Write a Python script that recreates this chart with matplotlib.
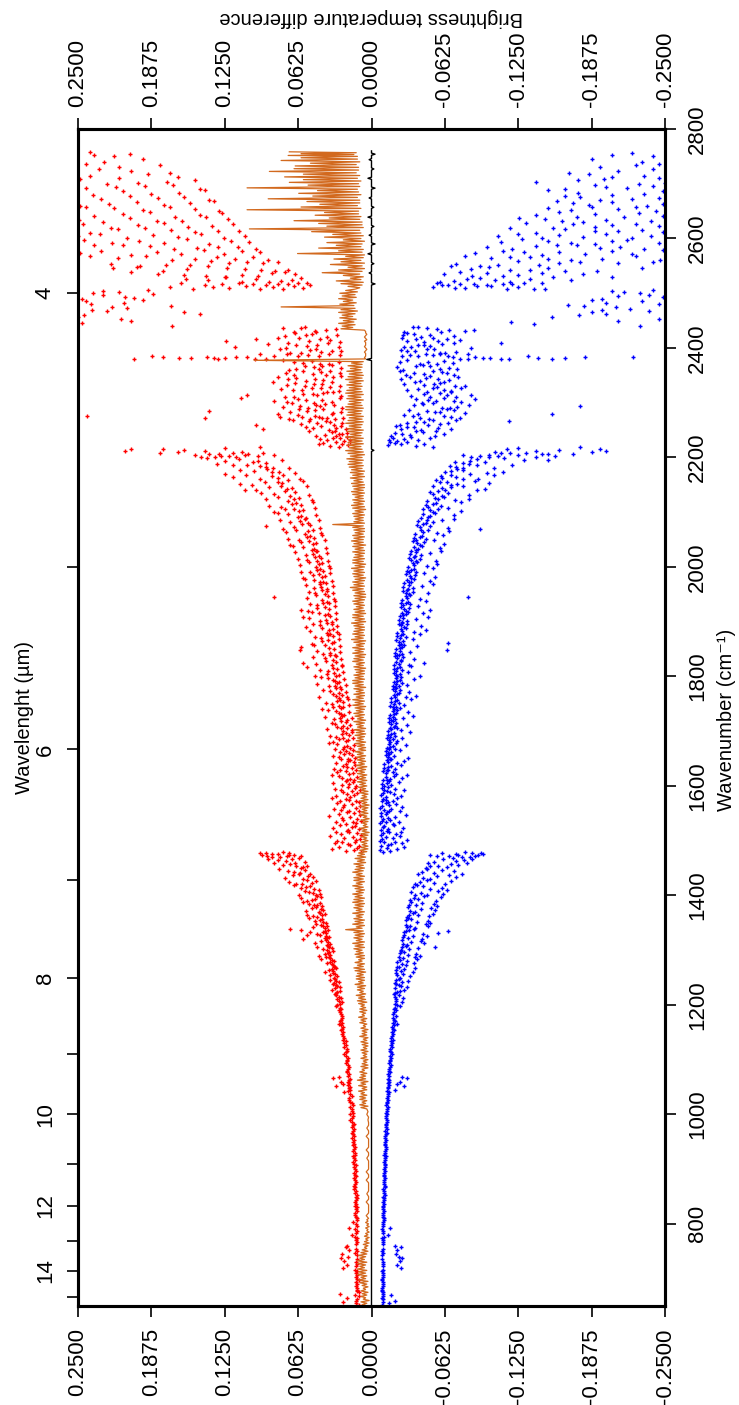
import numpy as np
from math import gcd
import matplotlib
matplotlib.use("Agg")
import matplotlib.pyplot as plt

plt.rcParams['font.family'] = ['Liberation Sans', 'DejaVu Sans']

# brightness temperature differences per 10 cm-1 bin: (bin start, channel readings)
red_rows = [
    (650, [.012, .011, .013, .024]), (660, [.012, .013, .011, .021]), (670, [.011, .012, .014, .027]),
    (680, [.012, .013, .012]), (690, [.013, .011, .012]), (700, [.012, .013, .012]),
    (710, [.013, .012, .014]), (720, [.012, .021, .013, .024]), (730, [.013, .023, .012, .026]),
    (740, [.012, .020, .014, .025]), (750, [.013, .022, .012, .019]), (760, [.012, .013, .021]),
    (770, [.013, .012, .014]), (780, [.013, .017, .012]), (790, [.012, .014, .019]),
    (800, [.013, .012, .016]), (810, [.013, .014, .012]), (820, [.013, .012, .014]),
    (830, [.012, .014, .013]), (840, [.013, .014, .012]), (850, [.014, .013, .012]),
    (860, [.013, .014, .015]), (870, [.014, .013, .015]), (880, [.013, .015, .014]),
    (890, [.014, .015, .013]), (900, [.015, .014, .013]), (910, [.014, .015, .016]),
    (920, [.015, .014, .016]), (930, [.016, .015, .014]), (940, [.015, .016, .014]),
    (950, [.016, .015, .017]), (960, [.016, .015, .017]), (970, [.017, .016, .015]),
    (980, [.016, .017, .015]), (990, [.017, .016, .018]), (1000, [.017, .016, .018]),
    (1010, [.017, .018, .016]), (1020, [.018, .017, .019]), (1030, [.018, .019, .017]),
    (1040, [.019, .018, .020, .023]), (1050, [.019, .026, .018, .030, .020, .024]),
    (1060, [.019, .033, .020, .018, .028]), (1070, [.020, .019, .021]), (1080, [.020, .021, .019]),
    (1090, [.021, .020, .022]), (1100, [.021, .022, .020]), (1110, [.022, .021, .023]),
    (1120, [.022, .023, .021]), (1130, [.023, .022, .024]), (1140, [.024, .023, .025]),
    (1150, [.025, .024, .026]), (1160, [.025, .028, .026, .024]), (1170, [.026, .025, .027]),
    (1180, [.027, .026, .025]), (1190, [.027, .030, .028, .026]), (1200, [.028, .025, .027, .029]),
    (1210, [.029, .026, .028, .030]), (1220, [.029, .034, .030, .027, .031]),
    (1230, [.030, .027, .033, .029, .031]), (1240, [.031, .035, .030, .028, .032]),
    (1250, [.032, .029, .035, .031, .033]), (1260, [.033, .040, .032, .030, .034, .036]),
    (1270, [.034, .031, .038, .033, .035]), (1280, [.035, .043, .034, .032, .039, .036]),
    (1290, [.036, .033, .045, .035, .040, .037]), (1300, [.037, .046, .036, .034, .041, .038]),
    (1310, [.038, .035, .048, .037, .043, .039]), (1320, [.039, .055, .038, .036, .044, .058, .040]),
    (1330, [.040, .060, .037, .069, .046, .039, .052, .041]), (1340, [.041, .038, .050, .040, .047, .043]),
    (1350, [.042, .053, .039, .041, .048, .044]), (1360, [.044, .040, .055, .042, .050, .046]),
    (1370, [.045, .056, .041, .043, .051, .047]), (1380, [.046, .042, .058, .044, .053, .049]),
    (1390, [.048, .060, .043, .046, .055, .051]), (1400, [.050, .044, .062, .047, .057, .053]),
    (1410, [.052, .066, .045, .049, .060, .056]), (1420, [.055, .047, .070, .051, .064, .059]),
    (1430, [.058, .074, .050, .054, .067, .062]), (1440, [.061, .052, .079, .057, .071, .066]),
    (1450, [.064, .083, .055, .069, .058, .075, .060]),
    (1460, [.068, .057, .088, .073, .062, .080, .065]),
    (1470, [.072, .093, .060, .078, .066, .089, .085, .070]),
    (1475, [.075, .090, .070, .095, .080, .085]),
    (1480, [.009, .022, .015, .034, .012, .028]), (1490, [.018, .011, .025, .014, .031, .020]),
    (1500, [.010, .023, .016, .035, .029, .013]), (1510, [.019, .012, .026, .009, .021, .030]),
    (1520, [.014, .027, .020, .011, .033, .017]), (1530, [.024, .009, .016, .030, .013, .022]),
    (1540, [.012, .025, .018, .036, .010, .028]), (1550, [.021, .015, .032, .026, .011, .019]),
    (1560, [.010, .023, .017, .029, .013, .024]), (1570, [.019, .013, .027, .011, .034, .022]),
    (1580, [.012, .024, .018, .030, .015, .021]), (1590, [.020, .014, .031, .026, .010, .017]),
    (1600, [.013, .025, .019, .033, .016, .022]), (1610, [.021, .015, .028, .012, .025, .018]),
    (1620, [.016, .029, .022, .013, .034, .019]), (1630, [.021, .017, .032, .027, .014, .024]),
    (1640, [.018, .026, .022, .030, .015, .020]), (1650, [.023, .017, .033, .028, .014, .020]),
    (1660, [.019, .027, .022, .016, .031, .024]), (1670, [.023, .018, .036, .029, .015, .021]),
    (1680, [.020, .028, .024, .016, .033, .022]), (1690, [.025, .019, .035, .030, .017, .022]),
    (1700, [.021, .029, .024, .017, .038, .026]), (1710, [.026, .022, .034, .031, .018, .024]),
    (1720, [.021, .032, .027, .017, .040, .025]), (1730, [.026, .023, .037, .030, .019, .028]),
    (1740, [.024, .033, .028, .019, .042, .026]), (1750, [.029, .024, .039, .034, .020, .027]),
    (1760, [.025, .033, .028, .021, .045, .030]), (1770, [.030, .026, .041, .035, .022, .028]),
    (1780, [.027, .036, .031, .022, .046, .029]), (1790, [.031, .028, .043, .037, .023, .033]),
    (1800, [.028, .038, .032, .024, .048, .030]), (1810, [.033, .029, .044, .037, .025, .055]),
    (1820, [.030, .039, .034, .025, .047, .058]), (1830, [.035, .030, .050, .040, .026, .033]),
    (1840, [.031, .041, .035, .027, .046, .061]), (1850, [.036, .032, .049, .040, .027, .060]),
    (1860, [.032, .042, .037, .028, .051, .034]), (1870, [.037, .033, .048, .043, .028, .035]),
    (1880, [.033, .042, .038, .029, .052, .036]), (1890, [.038, .034, .050, .044, .029, .056]),
    (1900, [.034, .044, .039, .030, .053, .058]), (1910, [.040, .035, .051, .045, .030, .037]),
    (1920, [.036, .046, .040, .031, .054, .060]), (1930, [.041, .036, .052, .046, .031, .038]),
    (1940, [.037, .047, .042, .032, .055, .083]), (1950, [.042, .038, .053, .048, .033, .040]),
    (1960, [.038, .049, .043, .033, .056, .044]), (1970, [.044, .039, .057, .049, .034, .041]),
    (1980, [.040, .050, .045, .035, .058, .042]), (1990, [.046, .041, .060, .052, .035, .044]),
    (2000, [.042, .053, .047, .036, .061, .045]), (2010, [.048, .043, .063, .055, .037, .046]),
    (2020, [.045, .056, .050, .038, .065, .047]), (2030, [.051, .046, .067, .058, .039, .049]),
    (2040, [.047, .060, .053, .040, .069, .050]), (2050, [.055, .049, .071, .062, .042, .052]),
    (2060, [.050, .064, .057, .043, .073, .054]), (2070, [.059, .052, .090, .066, .044, .075]),
    (2080, [.054, .069, .061, .045, .078, .057]), (2090, [.063, .056, .080, .071, .047, .060]),
    (2100, [.058, .074, .066, .048, .083, .062]), (2110, [.068, .060, .087, .077, .050, .064]),
    (2120, [.062, .080, .071, .051, .090, .066]), (2130, [.074, .065, .094, .083, .053, .069]),
    (2140, [.068, .087, .077, .055, .108, .098, .072]), (2150, [.080, .071, .112, .091, .058, .102, .076]),
    (2160, [.075, .095, .085, .061, .118, .107, .080]), (2170, [.089, .079, .125, .100, .065, .112, .085]),
    (2180, [.084, .106, .095, .070, .132, .118, .090]), (2190, [.101, .090, .140, .113, .076, .125, .097]),
    (2200, [.097, .121, .108, .083, .145, .133, .115, .128]),
    (2205, [.118, .150, .105, .180, .130, .092, .165, .138]),
    (2210, [.125, .160, .110, .205, .142, .095, .178, .210]),
    (2220, [.030, .018, .041, .025, .045, .020, .035, .028]),
    (2230, [.023, .038, .018, .044, .027, .033, .021, .030]),
    (2240, [.040, .021, .053, .028, .034, .047, .025, .031]),
    (2250, [.036, .092, .022, .050, .030, .056, .043, .026, .098]),
    (2260, [.046, .025, .060, .032, .067, .039, .053, .035]),
    (2270, [.038, .142, .024, .059, .045, .078, .031, .070, .052, .042]),
    (2275, [.048, .242, .034, .063]),
    (2280, [.055, .026, .080, .041, .138, .069, .033, .062, .048]),
    (2290, [.032, .061, .044, .075, .025, .054, .068, .040, .047]),
    (2300, [.063, .027, .111, .049, .072, .034, .083, .042, .056]),
    (2310, [.041, .074, .026, .106, .058, .033, .066, .046, .050]),
    (2320, [.059, .035, .077, .028, .051, .067, .038, .043]),
    (2330, [.049, .072, .027, .057, .084, .034, .065, .042]),
    (2340, [.064, .033, .080, .026, .056, .041, .071, .048]),
    (2350, [.043, .066, .027, .058, .039, .073, .035, .050]),
    (2360, [.057, .026, .070, .042, .064, .034, .049, .045]),
    (2370, [.036, .058, .028, .075, .044, .066, .051]),
    (2379, [.134, .099, .187, .115, .154, .090, .178, .125, .202, .106, .164, .131, .140]),
    (2385, [.063, .027, .095, .045, .036, .083, .054, .072]),
    (2390, [.043, .078, .026, .060, .047, .034, .069, .052]),
    (2400, [.055, .116, .028, .073, .037, .088, .046, .064]),
    (2410, [.071, .027, .124, .053, .035, .098, .044, .062, .080]),
    (2420, [.047, .074, .029, .065, .038, .056, .051]),
    (2430, [.066, .030, .057, .039, .075, .048, .060]),
    (2440, [.247, .170]), (2450, [.213, .250, .205]), (2460, [.146, .245, .225, .160]),
    (2470, [.221, .171, .238, .208]), (2480, [.195, .243, .211, .239]),
    (2490, [.229, .186, .247, .202, .210]), (2500, [.215, .237, .190, .229]),
    (2507, [.121, .058, .172, .084, .135, .066, .107, .052, .152, .095, .075]),
    (2515, [.090, .142, .063, .113, .055, .162, .080, .101, .071, .127]),
    (2520, [.139, .068, .098, .158, .060, .124, .087, .110, .077]),
    (2530, [.110, .182, .074, .141, .065, .205, .097, .160, .085, .125]),
    (2540, [.157, .082, .200, .108, .071, .139, .220, .094, .178, .123]),
    (2550, [.106, .175, .080, .222, .137, .092, .197, .121, .155]),
    (2560, [.192, .101, .150, .088, .240, .132, .216, .116, .170]),
    (2570, [.143, .230, .110, .183, .095, .248, .162, .126, .205]),
    (2580, [.212, .131, .098, .189, .149, .236, .114, .168]),
    (2590, [.157, .245, .120, .198, .104, .221, .177, .138]),
    (2600, [.126, .208, .165, .250, .108, .186, .145, .231]),
    (2610, [.216, .131, .193, .113, .240, .171, .150]),
    (2620, [.177, .246, .136, .222, .118, .199, .156]),
    (2630, [.229, .141, .206, .122, .249, .183, .161]),
    (2640, [.167, .236, .146, .212, .127, .189]),
    (2650, [.195, .130, .243, .172, .219, .150]),
    (2660, [.224, .155, .200, .134, .248, .177]),
    (2670, [.182, .230, .138, .206, .160]),
    (2680, [.212, .142, .237, .188, .164]),
    (2690, [.169, .243, .193, .146, .218]),
    (2700, [.225, .150, .199, .248, .174]),
    (2710, [.190, .240, .165, .215]), (2720, [.232, .172, .205]),
    (2730, [.215, .243, .180]), (2740, [.228, .195]), (2750, [.240, .206, .236, .219]),
]

blue_rows = [
    (650, [-.0095, -.0090, -.015, -.0100]), (660, [-.0094, -.020, -.0100, -.0088]),
    (670, [-.0096, -.0090, -.017, -.0102]), (680, [-.0093, -.0099, -.0089]),
    (690, [-.0095, -.0090, -.0101]), (700, [-.0094, -.0100, -.0090]),
    (710, [-.0096, -.0091, -.0102]), (720, [-.0094, -.022, -.0099, -.025]),
    (730, [-.0095, -.024, -.0090, -.026]), (740, [-.0093, -.023, -.0100, -.021]),
    (750, [-.0096, -.025, -.0091, -.022]), (760, [-.0095, -.0100, -.020]),
    (770, [-.0097, -.0092, -.0103]), (780, [-.0096, -.014, -.0101]),
    (790, [-.0098, -.0093, -.016]), (800, [-.0099, -.0104, -.0094]),
    (810, [-.0100, -.0095, -.0106]), (820, [-.0101, -.0107, -.0096]),
    (830, [-.0102, -.0097, -.0108]), (840, [-.0104, -.0099, -.0110]),
    (850, [-.0105, -.0100, -.0111]), (860, [-.0106, -.0112, -.0101]),
    (870, [-.0108, -.0103, -.0114]), (880, [-.0109, -.0115, -.0104]),
    (890, [-.0110, -.0105, -.0117]), (900, [-.0112, -.0107, -.0118]),
    (910, [-.0113, -.0119, -.0108]), (920, [-.0115, -.0110, -.0121]),
    (930, [-.0116, -.0122, -.0111]), (940, [-.0118, -.0113, -.0124]),
    (950, [-.0119, -.0126, -.0114]), (960, [-.0121, -.0116, -.0128]),
    (970, [-.0123, -.0118, -.0130]), (980, [-.0125, -.0132, -.0120]),
    (990, [-.0127, -.0122, -.0134]), (1000, [-.0129, -.0124, -.0136]),
    (1010, [-.0131, -.0138, -.0126]), (1020, [-.0134, -.0128, -.0141]),
    (1030, [-.0137, -.0131, -.0144]), (1040, [-.0140, -.020, -.0134, -.0147]),
    (1050, [-.0143, -.024, -.0137, -.028, -.0150, -.022]),
    (1060, [-.0146, -.030, -.0153, -.0140, -.026]),
    (1070, [-.0150, -.0143, -.0157]), (1080, [-.0153, -.0147, -.0160]),
    (1090, [-.0157, -.0164, -.0150]), (1100, [-.0160, -.0154, -.0168]),
    (1110, [-.0164, -.0157, -.0172]), (1120, [-.0168, -.0176, -.0161]),
    (1130, [-.0172, -.0165, -.0180]), (1140, [-.0176, -.0169, -.0185]),
    (1150, [-.0181, -.0173, -.0190]), (1160, [-.0185, -.022, -.0195, -.0177]),
    (1170, [-.0190, -.0182, -.0200]), (1180, [-.0195, -.0186, -.0205]),
    (1190, [-.0200, -.024, -.0210, -.0191]), (1200, [-.0205, -.026, -.0196, -.0216]),
    (1210, [-.021, -.027, -.020, -.023]), (1220, [-.022, -.028, -.020, -.024, -.019]),
    (1230, [-.023, -.030, -.021, -.025, -.020]), (1240, [-.023, -.021, -.031, -.026, -.020]),
    (1250, [-.024, -.033, -.022, -.027, -.021]), (1260, [-.025, -.035, -.022, -.037, -.028, -.021]),
    (1270, [-.026, -.023, -.036, -.029, -.022]), (1280, [-.027, -.039, -.024, -.030, -.037, -.023]),
    (1290, [-.028, -.025, -.041, -.031, -.038, -.024]), (1300, [-.029, -.054, -.026, -.040, -.032, -.025]),
    (1310, [-.030, -.027, -.045, -.034, -.042, -.026]), (1320, [-.031, -.043, -.028, -.047, -.035, -.027]),
    (1330, [-.032, -.057, -.029, -.044, -.065, -.036, -.028]), (1340, [-.033, -.048, -.030, -.037, -.046, -.029]),
    (1350, [-.034, -.031, -.050, -.039, -.048, -.029]), (1360, [-.035, -.052, -.032, -.040, -.049, -.030]),
    (1370, [-.037, -.033, -.054, -.042, -.051, -.031]), (1380, [-.038, -.056, -.034, -.043, -.053, -.032]),
    (1390, [-.040, -.036, -.059, -.045, -.055, -.033]), (1400, [-.042, -.061, -.037, -.047, -.057, -.034]),
    (1410, [-.044, -.039, -.064, -.050, -.060, -.035]), (1420, [-.047, -.068, -.041, -.053, -.063, -.037]),
    (1430, [-.050, -.044, -.072, -.056, -.066, -.040]), (1440, [-.053, -.077, -.047, -.060, -.070, -.043]),
    (1450, [-.057, -.081, -.050, -.068, -.064, -.074, -.046]),
    (1460, [-.061, -.053, -.086, -.072, -.069, -.079, -.048]),
    (1470, [-.066, -.091, -.056, -.077, -.074, -.088, -.084, -.050]),
    (1475, [-.080, -.093, -.060, -.086, -.072, -.095]),
    (1480, [-.010, -.016, -.007, -.022, -.013, -.028]), (1490, [-.014, -.008, -.020, -.011, -.026, -.017]),
    (1500, [-.009, -.018, -.012, -.024, -.007, -.030]), (1510, [-.015, -.010, -.021, -.008, -.013, -.025]),
    (1520, [-.011, -.019, -.008, -.014, -.027, -.010]), (1530, [-.016, -.009, -.012, -.023, -.007, -.018]),
    (1540, [-.010, -.014, -.020, -.008, -.029, -.012]), (1550, [-.013, -.008, -.017, -.011, -.024, -.015]),
    (1560, [-.009, -.015, -.021, -.012, -.007, -.026]), (1570, [-.012, -.018, -.009, -.014, -.022, -.010]),
    (1580, [-.010, -.016, -.012, -.025, -.008, -.019]), (1590, [-.014, -.009, -.020, -.011, -.028, -.013]),
    (1600, [-.011, -.017, -.009, -.013, -.023, -.015]), (1610, [-.013, -.010, -.019, -.012, -.026, -.016]),
    (1620, [-.012, -.018, -.010, -.014, -.030, -.021]), (1630, [-.014, -.011, -.020, -.013, -.025, -.017]),
    (1640, [-.013, -.016, -.011, -.022, -.014, -.028]), (1650, [-.015, -.012, -.019, -.014, -.031, -.017]),
    (1660, [-.014, -.017, -.012, -.024, -.015, -.020]), (1670, [-.016, -.013, -.021, -.015, -.029, -.018]),
    (1680, [-.015, -.018, -.013, -.026, -.016, -.022]), (1690, [-.017, -.014, -.020, -.016, -.033, -.019]),
    (1700, [-.016, -.019, -.014, -.025, -.017, -.022]), (1710, [-.018, -.015, -.021, -.017, -.030, -.020]),
    (1720, [-.017, -.020, -.015, -.027, -.018, -.035]), (1730, [-.019, -.016, -.022, -.018, -.031, -.021]),
    (1740, [-.018, -.021, -.016, -.028, -.019, -.024]), (1750, [-.020, -.017, -.023, -.019, -.034, -.022]),
    (1760, [-.019, -.022, -.017, -.029, -.020, -.038]), (1770, [-.021, -.018, -.024, -.020, -.032, -.023]),
    (1780, [-.020, -.023, -.018, -.030, -.021, -.026]), (1790, [-.022, -.019, -.025, -.021, -.036, -.024]),
    (1800, [-.021, -.024, -.019, -.031, -.022, -.041]), (1810, [-.022, -.019, -.026, -.021, -.034, -.024]),
    (1820, [-.021, -.025, -.019, -.032, -.023, -.045]), (1830, [-.023, -.020, -.027, -.022, -.036, -.025]),
    (1840, [-.022, -.026, -.020, -.033, -.024, -.064]), (1850, [-.024, -.021, -.028, -.023, -.039, -.026]),
    (1860, [-.023, -.027, -.021, -.035, -.025, -.065]), (1870, [-.025, -.022, -.029, -.024, -.041, -.027]),
    (1880, [-.025, -.029, -.022, -.036, -.026, -.046]), (1890, [-.026, -.023, -.030, -.025, -.042, -.028]),
    (1900, [-.026, -.030, -.023, -.038, -.027, -.048]), (1910, [-.027, -.024, -.031, -.026, -.044, -.029]),
    (1920, [-.028, -.032, -.025, -.040, -.029, -.050]), (1930, [-.029, -.025, -.033, -.027, -.046, -.031]),
    (1940, [-.029, -.033, -.026, -.041, -.030, -.082]), (1950, [-.030, -.027, -.035, -.029, -.048, -.032]),
    (1960, [-.031, -.035, -.027, -.043, -.032, -.052]), (1970, [-.032, -.028, -.036, -.030, -.050, -.034]),
    (1980, [-.033, -.037, -.029, -.045, -.034, -.054]), (1990, [-.034, -.030, -.038, -.032, -.052, -.036]),
    (2000, [-.035, -.039, -.031, -.047, -.036, -.056]), (2010, [-.036, -.032, -.041, -.034, -.055, -.038]),
    (2020, [-.037, -.042, -.033, -.050, -.038, -.059]), (2030, [-.038, -.034, -.043, -.036, -.058, -.040]),
    (2040, [-.039, -.045, -.035, -.053, -.041, -.062]), (2050, [-.041, -.036, -.046, -.038, -.061, -.043]),
    (2060, [-.042, -.048, -.037, -.056, -.044, -.066]), (2070, [-.044, -.039, -.050, -.041, -.065, -.092]),
    (2080, [-.046, -.052, -.040, -.060, -.047, -.070]), (2090, [-.048, -.042, -.054, -.044, -.070, -.050]),
    (2100, [-.050, -.057, -.044, -.065, -.052, -.076]), (2110, [-.052, -.046, -.059, -.048, -.076, -.055]),
    (2120, [-.054, -.062, -.047, -.071, -.057, -.083]), (2130, [-.057, -.050, -.065, -.052, -.083, -.060]),
    (2140, [-.060, -.068, -.052, -.078, -.063, -.090, -.097]),
    (2150, [-.064, -.055, -.073, -.058, -.088, -.068, -.100]),
    (2160, [-.068, -.078, -.059, -.091, -.072, -.104, -.060]),
    (2170, [-.073, -.063, -.084, -.068, -.098, -.078, -.112]),
    (2180, [-.078, -.090, -.067, -.104, -.083, -.120, -.072]),
    (2190, [-.084, -.071, -.097, -.078, -.113, -.090, -.130, -.150]),
    (2200, [-.092, -.108, -.078, -.125, -.100, -.140, -.085, -.156]),
    (2205, [-.118, -.100, -.150, -.132, -.172, -.110, -.188, -.145]),
    (2210, [-.125, -.160, -.105, -.195, -.140, -.178, -.115, -.200]),
    (2220, [-.016, -.030, -.020, -.045, -.025, -.014, -.038, -.052]),
    (2230, [-.022, -.015, -.040, -.028, -.050, -.018, -.034, -.054]),
    (2240, [-.033, -.020, -.055, -.026, -.044, -.017, -.062, -.038]),
    (2250, [-.025, -.048, -.036, -.068, -.021, -.057, -.042, -.030]),
    (2260, [-.058, -.030, -.045, -.072, -.024, -.065, -.038, -.117, -.052]),
    (2270, [-.035, -.062, -.028, -.154, -.049, -.075, -.041, -.068]),
    (2280, [-.070, -.040, -.058, -.032, -.080, -.047, -.064, -.054]),
    (2290, [-.044, -.178, -.060, -.036, -.073, -.052, -.083, -.067]),
    (2300, [-.062, -.038, -.088, -.048, -.070, -.055, -.076, -.043]),
    (2310, [-.050, -.072, -.034, -.064, -.085, -.045, -.058, -.068]),
    (2320, [-.068, -.040, -.056, -.030, -.076, -.047, -.062, -.052]),
    (2330, [-.045, -.062, -.028, -.071, -.037, -.053, -.080, -.058]),
    (2340, [-.057, -.025, -.066, -.041, -.050, -.074, -.033, -.046]),
    (2350, [-.036, -.060, -.024, -.052, -.070, -.029, -.045, -.064]),
    (2360, [-.050, -.027, -.066, -.038, -.058, -.022, -.044, -.073]),
    (2370, [-.030, -.056, -.041, -.069, -.024, -.048, -.062]),
    (2379, [-.095, -.069, -.133, -.082, -.165, -.101, -.223, -.075, -.117, -.142, -.182, -.088, -.154, -.110]),
    (2385, [-.040, -.026, -.065, -.033, -.052, -.082, -.046, -.058]),
    (2390, [-.058, -.030, -.047, -.072, -.025, -.063, -.037, -.053]),
    (2400, [-.034, -.070, -.045, -.028, -.060, -.050, -.085, -.040]),
    (2410, [-.052, -.026, -.064, -.038, -.075, -.030, -.057, -.045, -.110]),
    (2420, [-.030, -.059, -.042, -.070, -.027, -.050, -.036]),
    (2430, [-.047, -.028, -.066, -.035, -.080, -.056, -.040, -.087]),
    (2440, [-.119, -.229, -.138]), (2450, [-.210, -.154, -.245]),
    (2460, [-.177, -.200, -.188, -.236]), (2470, [-.196, -.208, -.167, -.220, -.181]),
    (2480, [-.230, -.188, -.245, -.200]), (2490, [-.236, -.210, -.248, -.196]),
    (2500, [-.229, -.215, -.205, -.240]),
    (2507, [-.060, -.115, -.052, -.090, -.138, -.071, -.102, -.148, -.080, -.125]),
    (2515, [-.098, -.056, -.130, -.075, -.112, -.065, -.145, -.087, -.120]),
    (2520, [-.070, -.118, -.058, -.155, -.092, -.135, -.081, -.105, -.170]),
    (2530, [-.125, -.062, -.180, -.098, -.145, -.075, -.205, -.112, -.086]),
    (2540, [-.085, -.150, -.068, -.192, -.118, -.230, -.100, -.165, -.135]),
    (2550, [-.160, -.092, -.210, -.125, -.072, -.178, -.143, -.240, -.108]),
    (2560, [-.118, -.196, -.080, -.150, -.225, -.102, -.170, -.135, -.246]),
    (2570, [-.205, -.130, -.088, -.182, -.248, -.112, -.160, -.222, -.145]),
    (2580, [-.140, -.232, -.098, -.175, -.120, -.212, -.158, -.195]),
    (2590, [-.218, -.110, -.190, -.150, -.245, -.128, -.205, -.170]),
    (2600, [-.125, -.200, -.160, -.238, -.108, -.180, -.222, -.145]),
    (2610, [-.230, -.140, -.190, -.118, -.210, -.165, -.248]),
    (2620, [-.172, -.245, -.132, -.205, -.155, -.225, -.190]),
    (2630, [-.215, -.148, -.238, -.180, -.126, -.200, -.162]),
    (2640, [-.160, -.228, -.190, -.140, -.248, -.175]),
    (2650, [-.242, -.170, -.210, -.150, -.225, -.188]),
    (2660, [-.185, -.235, -.158, -.205, -.172, -.248]),
    (2670, [-.222, -.165, -.245, -.195, -.178]),
    (2680, [-.176, -.232, -.205, -.150, -.248]),
    (2690, [-.240, -.190, -.165, -.218, -.200]),
    (2700, [-.198, -.250, -.176, -.228, -.140]),
    (2710, [-.232, -.185, -.245, -.205]), (2720, [-.210, -.168, -.240]),
    (2730, [-.245, -.195, -.225]), (2740, [-.188, -.230]), (2750, [-.205, -.222, -.240]),
]

# mean difference, readings in 20 cm-1 bins
orange_rows = [
    (650, [.003, .008, .004, .009, .002, .007, .005, .009]),
    (670, [.004, .008, .003, .009, .005, .007, .003, .008]),
    (690, [.004, .010, .003, .011, .005, .009, .004, .012]),
    (710, [.005, .011, .004, .012, .006, .010, .005, .012]),
    (730, [.004, .012, .006, .010, .005, .011, .004, .009]),
    (750, [.003, .008, .004, .006, .003, .007, .002, .006]),
    (770, [.003, .005, .002, .006, .003, .005, .002, .004]),
    (790, [.003, .005, .002, .004, .0025, .005, .003, .004]),
    (810, [.0025, .0045, .0025, .0025]), (830, [.0025, .0025, .0045, .0025]),
    (850, [.0025, .004, .0025, .0025]), (870, [.0025, .0025, .0045, .0025]),
    (890, [.0025, .0045, .0025, .0025]), (910, [.0025, .0025, .004, .0025]),
    (930, [.0025, .0045, .0025, .0025]), (950, [.0025, .0025, .0045, .0025]),
    (970, [.0025, .004, .0025, .0025]), (990, [.003, .0025, .004, .003]),
    (1010, [.004, .009, .003, .010, .005, .008, .004, .010]),
    (1030, [.005, .010, .004, .009, .006, .011, .004, .008]),
    (1050, [.004, .011, .005, .009, .003, .012, .005, .010]),
    (1070, [.005, .009, .004, .010, .006, .008, .003, .009]),
    (1090, [.003, .008, .004, .007, .003, .009, .004, .007]),
    (1110, [.004, .008, .003, .009, .004, .007, .003, .008]),
    (1130, [.003, .009, .004, .007, .003, .010, .004, .008]),
    (1150, [.004, .008, .003, .009, .005, .007, .004, .010]),
    (1170, [.005, .009, .004, .011, .006, .008, .005, .010]),
    (1190, [.004, .010, .005, .009, .006, .011, .004, .012]),
    (1210, [.005, .011, .006, .013, .005, .010, .007, .012]),
    (1230, [.006, .012, .005, .014, .007, .011, .006, .013]),
    (1250, [.006, .013, .007, .012, .005, .014, .006, .015]),
    (1270, [.007, .012, .006, .014, .008, .011, .006, .013]),
    (1290, [.006, .014, .007, .013, .008, .015, .006, .014]),
    (1310, [.007, .016, .006, .013, .008, .015, .007, .014]),
    (1330, [.006, .015, .007, .022, .008, .013, .006, .016]),
    (1350, [.007, .014, .006, .015, .008, .013, .007, .016]),
    (1370, [.006, .013, .008, .015, .007, .014, .006, .016]),
    (1390, [.007, .015, .006, .014, .008, .016, .007, .013]),
    (1410, [.006, .014, .007, .016, .008, .013, .006, .015]),
    (1430, [.007, .015, .006, .013, .008, .016, .007, .014]),
    (1450, [.006, .013, .007, .015, .005, .012, .006, .014]),
    (1470, [.005, .012, .006, .011, .004, .010, .003, .009]),
    (1490, [.003, .008, .004, .009, .003, .007, .004, .009]),
    (1510, [.003, .009, .002, .008, .004, .010, .003, .007]),
    (1530, [.004, .008, .003, .009, .002, .007, .004, .010]),
    (1550, [.003, .009, .004, .008, .003, .010, .002, .008]),
    (1570, [.004, .010, .003, .009, .004, .008, .003, .010]),
    (1590, [.003, .009, .005, .011, .004, .010, .005, .012]),
    (1610, [.004, .011, .005, .010, .004, .012, .006, .011]),
    (1630, [.005, .012, .004, .013, .006, .011, .005, .012]),
    (1650, [.006, .013, .005, .012, .007, .014, .005, .011]),
    (1670, [.005, .012, .006, .014, .005, .013, .007, .012]),
    (1690, [.006, .014, .005, .013, .006, .015, .005, .012]),
    (1710, [.007, .013, .006, .015, .005, .012, .007, .014]),
    (1730, [.006, .015, .007, .013, .006, .014, .005, .016]),
    (1750, [.007, .014, .006, .016, .007, .013, .006, .015]),
    (1770, [.006, .013, .007, .015, .005, .014, .007, .016]),
    (1790, [.007, .016, .006, .014, .007, .015, .006, .013]),
    (1810, [.006, .014, .005, .015, .007, .013, .006, .016]),
    (1830, [.007, .015, .006, .014, .005, .016, .007, .014]),
    (1850, [.006, .016, .007, .013, .006, .015, .005, .017]),
    (1870, [.007, .014, .006, .016, .007, .015, .006, .014]),
    (1890, [.006, .015, .007, .017, .005, .014, .006, .016]),
    (1910, [.007, .016, .005, .014, .006, .015, .007, .013]),
    (1930, [.006, .015, .007, .016, .006, .014, .005, .015]),
    (1950, [.005, .014, .006, .016, .007, .018, .006, .015]),
    (1970, [.007, .016, .006, .014, .005, .015, .007, .016]),
    (1990, [.006, .015, .007, .017, .006, .014, .005, .016]),
    (2010, [.007, .016, .006, .015, .007, .014, .006, .016]),
    (2030, [.006, .014, .007, .016, .005, .015, .007, .017]),
    (2050, [.007, .015, .006, .016, .007, .014, .006, .015]),
    (2070, [.006, .016, .007, .033, .006, .015, .007, .014]),
    (2090, [.007, .015, .006, .016, .007, .014, .005, .016]),
    (2110, [.006, .017, .007, .015, .006, .016, .007, .014]),
    (2130, [.007, .016, .006, .017, .007, .015, .006, .016]),
    (2150, [.006, .017, .007, .015, .008, .018, .006, .016]),
    (2170, [.007, .018, .006, .017, .008, .019, .007, .020]),
    (2190, [.008, .019, .007, .021, .008, .018, .006, .020]),
    (2210, [.007, .022, .008, .019, .009, .021, .007, .020]),
    (2230, [.008, .020, .007, .022, .009, .018, .008, .021]),
    (2250, [.007, .021, .009, .019, .008, .022, .007, .020]),
    (2270, [.008, .019, .007, .021, .009, .020, .008, .022]),
    (2290, [.007, .022, .008, .020, .009, .019, .007, .021]),
    (2310, [.009, .020, .007, .022, .008, .021, .009, .019]),
    (2330, [.008, .021, .009, .019, .007, .022, .008, .020]),
    (2350, [.007, .019, .008, .021, .009, .018, .008, .020]),
    (2370, [.008, .017, .007, .100, .005, .006, .005, .005]),
    (2390, [.005, .006, .005, .004, .005, .006, .005, .005]),
    (2410, [.005, .006, .004, .005, .006, .005, .004, .005]),
    (2430, [.005, .006, .026, .016, .025, .014, .028, .015]),
    (2450, [.024, .013, .027, .016, .025, .014, .028, .012]),
    (2470, [.026, .014, .077, .015, .027, .013, .024, .016]),
    (2490, [.028, .013, .025, .014, .027, .012, .022, .014]),
    (2510, [.010, .020, .008, .026, .007, .030, .009, .018]),
    (2530, [.007, .024, .010, .042, .008, .028, .006, .020]),
    (2550, [.008, .035, .006, .026, .009, .032, .007, .022]),
    (2570, [.006, .063, .008, .028, .007, .045, .009, .030]),
    (2590, [.008, .038, .006, .024, .009, .040, .007, .033]),
    (2610, [.009, .051, .010, .104, .007, .038, .008, .045]),
    (2630, [.008, .066, .010, .036, .009, .048, .011, .040]),
    (2650, [.011, .106, .009, .060, .012, .044, .010, .055]),
    (2670, [.010, .088, .012, .050, .009, .062, .011, .046]),
    (2690, [.012, .106, .010, .054, .011, .070, .009, .058]),
    (2710, [.012, .074, .010, .058, .013, .087, .011, .066]),
    (2730, [.011, .065, .013, .052, .010, .077, .012, .060]),
    (2750, [.012, .071, .015, .060, .013, .070]),
]

# instrument noise term, close to zero: (wavenumber, difference)
black_pts = [
    (650, 0), (2211, 0), (2213, -.002), (2215, 0), (2377, 0), (2379, .004), (2381, 0),
    (2505, 0), (2515, 0), (2517, -.003), (2519, 0), (2535, 0), (2537, .002), (2539, 0),
    (2552, 0), (2554, -.002), (2556, 0), (2570, 0), (2572, .003), (2574, 0),
    (2588, 0), (2590, -.003), (2592, 0), (2604, 0), (2606, .002), (2608, 0),
    (2620, 0), (2622, -.002), (2624, 0), (2637, 0), (2639, .003), (2641, 0),
    (2655, 0), (2657, -.002), (2659, 0), (2672, 0), (2674, .002), (2676, 0),
    (2690, 0), (2692, -.003), (2694, 0), (2708, 0), (2710, .003), (2712, 0),
    (2725, 0), (2727, -.002), (2729, 0), (2742, 0), (2744, .002), (2746, 0),
    (2752, 0), (2754, -.003), (2756, 0), (2760, 0),
]

wavelength_major = [4, 6, 8, 10, 12, 14]
wavelength_minor = [5, 7, 9, 11, 13, 15]
bt_ticks = [0.25, 0.1875, 0.125, 0.0625, 0.0, -0.0625, -0.125, -0.1875, -0.25]
wn_ticks = [800, 1000, 1200, 1400, 1600, 1800, 2000, 2200, 2400, 2600, 2800]


def expand(rows, shuffle=True, last_width=10):
    # readings in a row are channels spread through the bin
    wn, bt = [], []
    for i, (w, vals) in enumerate(rows):
        n = len(vals)
        nxt = rows[i + 1][0] if i + 1 < len(rows) else w + last_width
        step = (nxt - w) / n
        mults = [m for m in range(1, n + 1) if gcd(m, n) == 1]
        mult = mults[i % len(mults)]
        slots = [(mult * k + i) % n for k in range(n)] if shuffle else list(range(n))
        for k, v in enumerate(vals):
            wn.append(w + slots[k] * step)
            bt.append(v)
    return np.array(wn), np.array(bt)


red_wn, red_bt = expand(red_rows)
blue_wn, blue_bt = expand(blue_rows)
orange_wn, orange_bt = expand(orange_rows, shuffle=False)
black_wn = [p[0] for p in black_pts]
black_bt = [p[1] for p in black_pts]

fig = plt.figure(figsize=(7.39, 14.05), dpi=100)
ax = fig.add_axes([78 / 739, 1 - 1306 / 1405, 587 / 739, 1177 / 1405])

ax.scatter(red_bt, red_wn, marker='+', s=9, linewidths=1.0, color='#ff0000', zorder=2)
ax.scatter(blue_bt, blue_wn, marker='+', s=9, linewidths=1.0, color='#0000ff', zorder=2)
ax.plot(orange_bt, orange_wn, color='#d2691e', lw=0.9, zorder=3)
ax.plot(black_bt, black_wn, color='black', lw=1.0, zorder=4)

ax.set_xlim(0.25, -0.25)
ax.set_ylim(650, 2800)

ax.set_xticks(bt_ticks)
ax.set_xticklabels(['%.4f' % abs(t) if t == 0 else '%.4f' % t for t in bt_ticks])
ax.tick_params(axis='x', top=True, labeltop=True, direction='out', length=8, width=1.2,
               labelsize=16, labelrotation=90, pad=8)

ax.set_yticks([1e4 / w for w in wavelength_major])
ax.set_yticklabels([str(w) for w in wavelength_major])
ax.set_yticks([1e4 / w for w in wavelength_minor if 1e4 / w >= 650], minor=True)
ax.tick_params(axis='y', which='both', direction='out', length=8, width=1.2,
               labelsize=16, labelrotation=90, pad=8)
for lbl in ax.get_yticklabels():
    lbl.set_va('center')

ax2 = ax.twinx()
ax2.set_ylim(650, 2800)
ax2.set_yticks(wn_ticks)
ax2.tick_params(axis='y', direction='out', length=8, width=1.2, labelsize=16,
                labelrotation=90, pad=8)
for lbl in ax2.get_yticklabels():
    lbl.set_va('center')

for a in (ax, ax2):
    for sp in a.spines.values():
        sp.set_linewidth(2.2)

fig.text(25 / 739, 1 - 717 / 1405, 'Wavelenght (µm)', rotation=90,
         ha='center', va='center', fontsize=14.5)
fig.text(726 / 739, 1 - 720 / 1405, 'Wavenumber (cm⁻¹)', rotation=90,
         ha='center', va='center', fontsize=14.5)
fig.text(0.5 * (78 + 665) / 739, 1 - 18 / 1405, 'Brightness temperature difference',
         rotation=180, ha='center', va='center', fontsize=14.5)

fig.savefig('out.png', dpi=100)
